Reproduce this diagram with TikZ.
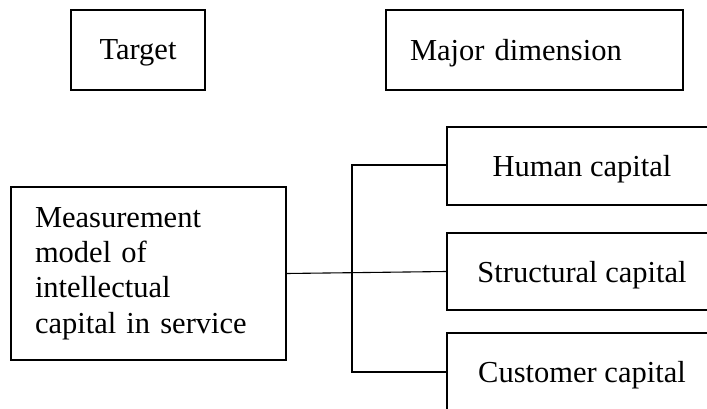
\documentclass[tikz,border=0pt]{standalone}
\usepackage{fontspec}
\setmainfont{Liberation Serif}
\usetikzlibrary{positioning}

\begin{document}
\begin{tikzpicture}[x=1pt,y=-1pt,
      box/.style={draw, line width=1.1pt, inner sep=0pt,
        font=\fontsize{30.5}{35.3}\selectfont},
      headbox/.style={box, minimum height=80pt, text depth=0pt},
      dimbox/.style={box, minimum width=270pt, text depth=0pt},
      link/.style={draw, line width=1.1pt}
    ]
    \useasboundingbox (0,0) rectangle (707,409);
    % header row
    \node[headbox, minimum width=134pt] (target) at (138,50) {Target};
    \node[headbox, text width=249pt, inner xsep=24pt, align=left] (major) at (534.5,50) {Major dimension};
    % target box
    \node[box, minimum height=173pt, text width=227pt, inner xsep=24pt, align=left] (model) at (148.5,273.5)
      {Measurement\\model of\\intellectual\\capital in service};
    % dimension boxes
    \foreach \dname/\dy/\dh/\dtext in {human/166/78/Human capital,structural/271.5/77/Structural capital,customer/371.5/77/Customer capital}{%
      \node[dimbox, minimum height=\dh pt] (\dname) at (582,\dy) {\dtext};
    }
    \coordinate (trunktop) at (352,165);
    \coordinate (trunkbot) at (352,372);
    \path[link] (model.east) -- (structural.west);
    \path[link] (human.west |- trunktop) -- (trunktop) -- (trunkbot) -- (customer.west |- trunkbot);
  \end{tikzpicture}
\end{document}
